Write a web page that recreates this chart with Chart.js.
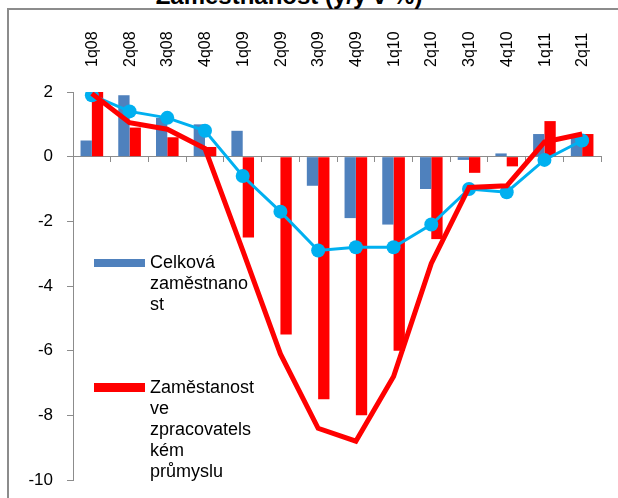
<!DOCTYPE html>
<html>
<head>
<meta charset="utf-8">
<script src="https://cdn.jsdelivr.net/npm/chart.js@4"></script>
<style>
  body { margin: 0; background: #fff; overflow: hidden; }
  #wrap { position: relative; width: 618px; height: 498px; font-family: "Liberation Sans", Arial, sans-serif; }
  #frame { position: absolute; left: 7px; top: 8px; width: 700px; height: 600px; border-left: 2px solid #8c8c8c; border-top: 2px solid #8c8c8c; }
  #title { position: absolute; left: 0; width: 578px; top: -16px; text-align: center; font-weight: bold; font-size: 24px; line-height: 24px; white-space: nowrap; }
  canvas { position: absolute; left: 0; top: 0; }
  .sw { position: absolute; left: 94px; width: 51px; }
  .lt { position: absolute; left: 150px; font-size: 18px; line-height: 21px; color: #000; }
</style>
</head>
<body>
<div id="wrap">
  <div id="frame"></div>
  <div id="title">Zaměstnanost (y/y v %)</div>
  <canvas id="myChart" width="618" height="498"></canvas>
  <div class="sw" style="top:259px;height:8px;background:#4f81bd"></div>
  <div class="lt" style="top:252px">Celková<br>zaměstnano<br>st</div>
  <div class="sw" style="top:383px;height:9px;background:#ff0000"></div>
  <div class="lt" style="top:377px">Zaměstanost<br>ve<br>zpracovatels<br>kém<br>průmyslu</div>
</div>
<script>
const labels = ["1q08", "2q08", "3q08", "4q08", "1q09", "2q09", "3q09", "4q09", "1q10", "2q10", "3q10", "4q10", "1q11", "2q11"];
const celkova = [0.5, 1.9, 1.2, 1.0, 0.8, 0, -0.9, -1.9, -2.1, -1.0, -0.1, 0.1, 0.7, 0.7];
const zpracBars = [2.0, 0.9, 0.6, 0.3, -2.5, -5.5, -7.5, -8.0, -6.0, -2.55, -0.5, -0.3, 1.1, 0.7];
const zpracLine = [1.95, 1.05, 0.85, 0.25, -2.9, -6.1, -8.4, -8.8, -6.8, -3.3, -0.95, -0.9, 0.45, 0.7];
const celkovaLine = [1.9, 1.4, 1.2, 0.8, -0.6, -1.7, -2.9, -2.8, -2.8, -2.1, -1.0, -1.1, -0.1, 0.5];

const ctx = document.getElementById("myChart").getContext("2d");
const axisGray = "#8c8c8c";

new Chart(ctx, {
  type: "bar",
  data: {
    labels: labels,
    datasets: [
      { type: "line", data: zpracLine, borderColor: "#ff0000", borderWidth: 5, pointRadius: 0, tension: 0, order: 1 },
      { type: "line", data: celkovaLine, borderColor: "#00b0f0", borderWidth: 3, pointRadius: 7,
        pointBackgroundColor: "#00b0f0", pointBorderWidth: 0, tension: 0, order: 2 },
      { data: celkova, backgroundColor: "#4f81bd", order: 3, categoryPercentage: 0.6, barPercentage: 1.0 },
      { data: zpracBars, backgroundColor: "#ff0000", order: 3, categoryPercentage: 0.6, barPercentage: 1.0 },
    ],
  },
  options: {
    responsive: false,
    animation: false,
    layout: { padding: { left: 0, right: 17, top: 0, bottom: 18 } },
    plugins: { legend: { display: false }, tooltip: { enabled: false } },
    scales: {
      x: {
        position: "top",
        offset: true,
        grid: { display: false, drawTicks: false },
        border: { display: false },
        ticks: { minRotation: 90, maxRotation: 90, padding: 25, labelOffset: 20, color: "#000",
                 font: { family: "Liberation Sans", size: 16 } },
        afterFit: (scale) => { scale.height = 92; },
      },
      x2: {
        type: "category",
        axis: "x",
        position: { y: 0 },
        offset: true,
        grid: { offset: true, drawOnChartArea: false, tickLength: 5, color: axisGray },
        border: { color: axisGray, width: 1 },
        ticks: { display: false },
        afterFit: (scale) => { scale.height = 0; scale.paddingLeft = 0; scale.paddingRight = 0; },
      },
      y: {
        min: -10,
        max: 2,
        ticks: { stepSize: 2, padding: 14, color: "#000", font: { family: "Liberation Sans", size: 17 } },
        grid: { drawOnChartArea: false, tickLength: 6, color: axisGray },
        border: { color: axisGray, width: 1 },
        afterFit: (scale) => { scale.width = 73; scale.paddingTop = 0; scale.paddingBottom = 0; },
      },
    },
  },
});
</script>
</body>
</html>
